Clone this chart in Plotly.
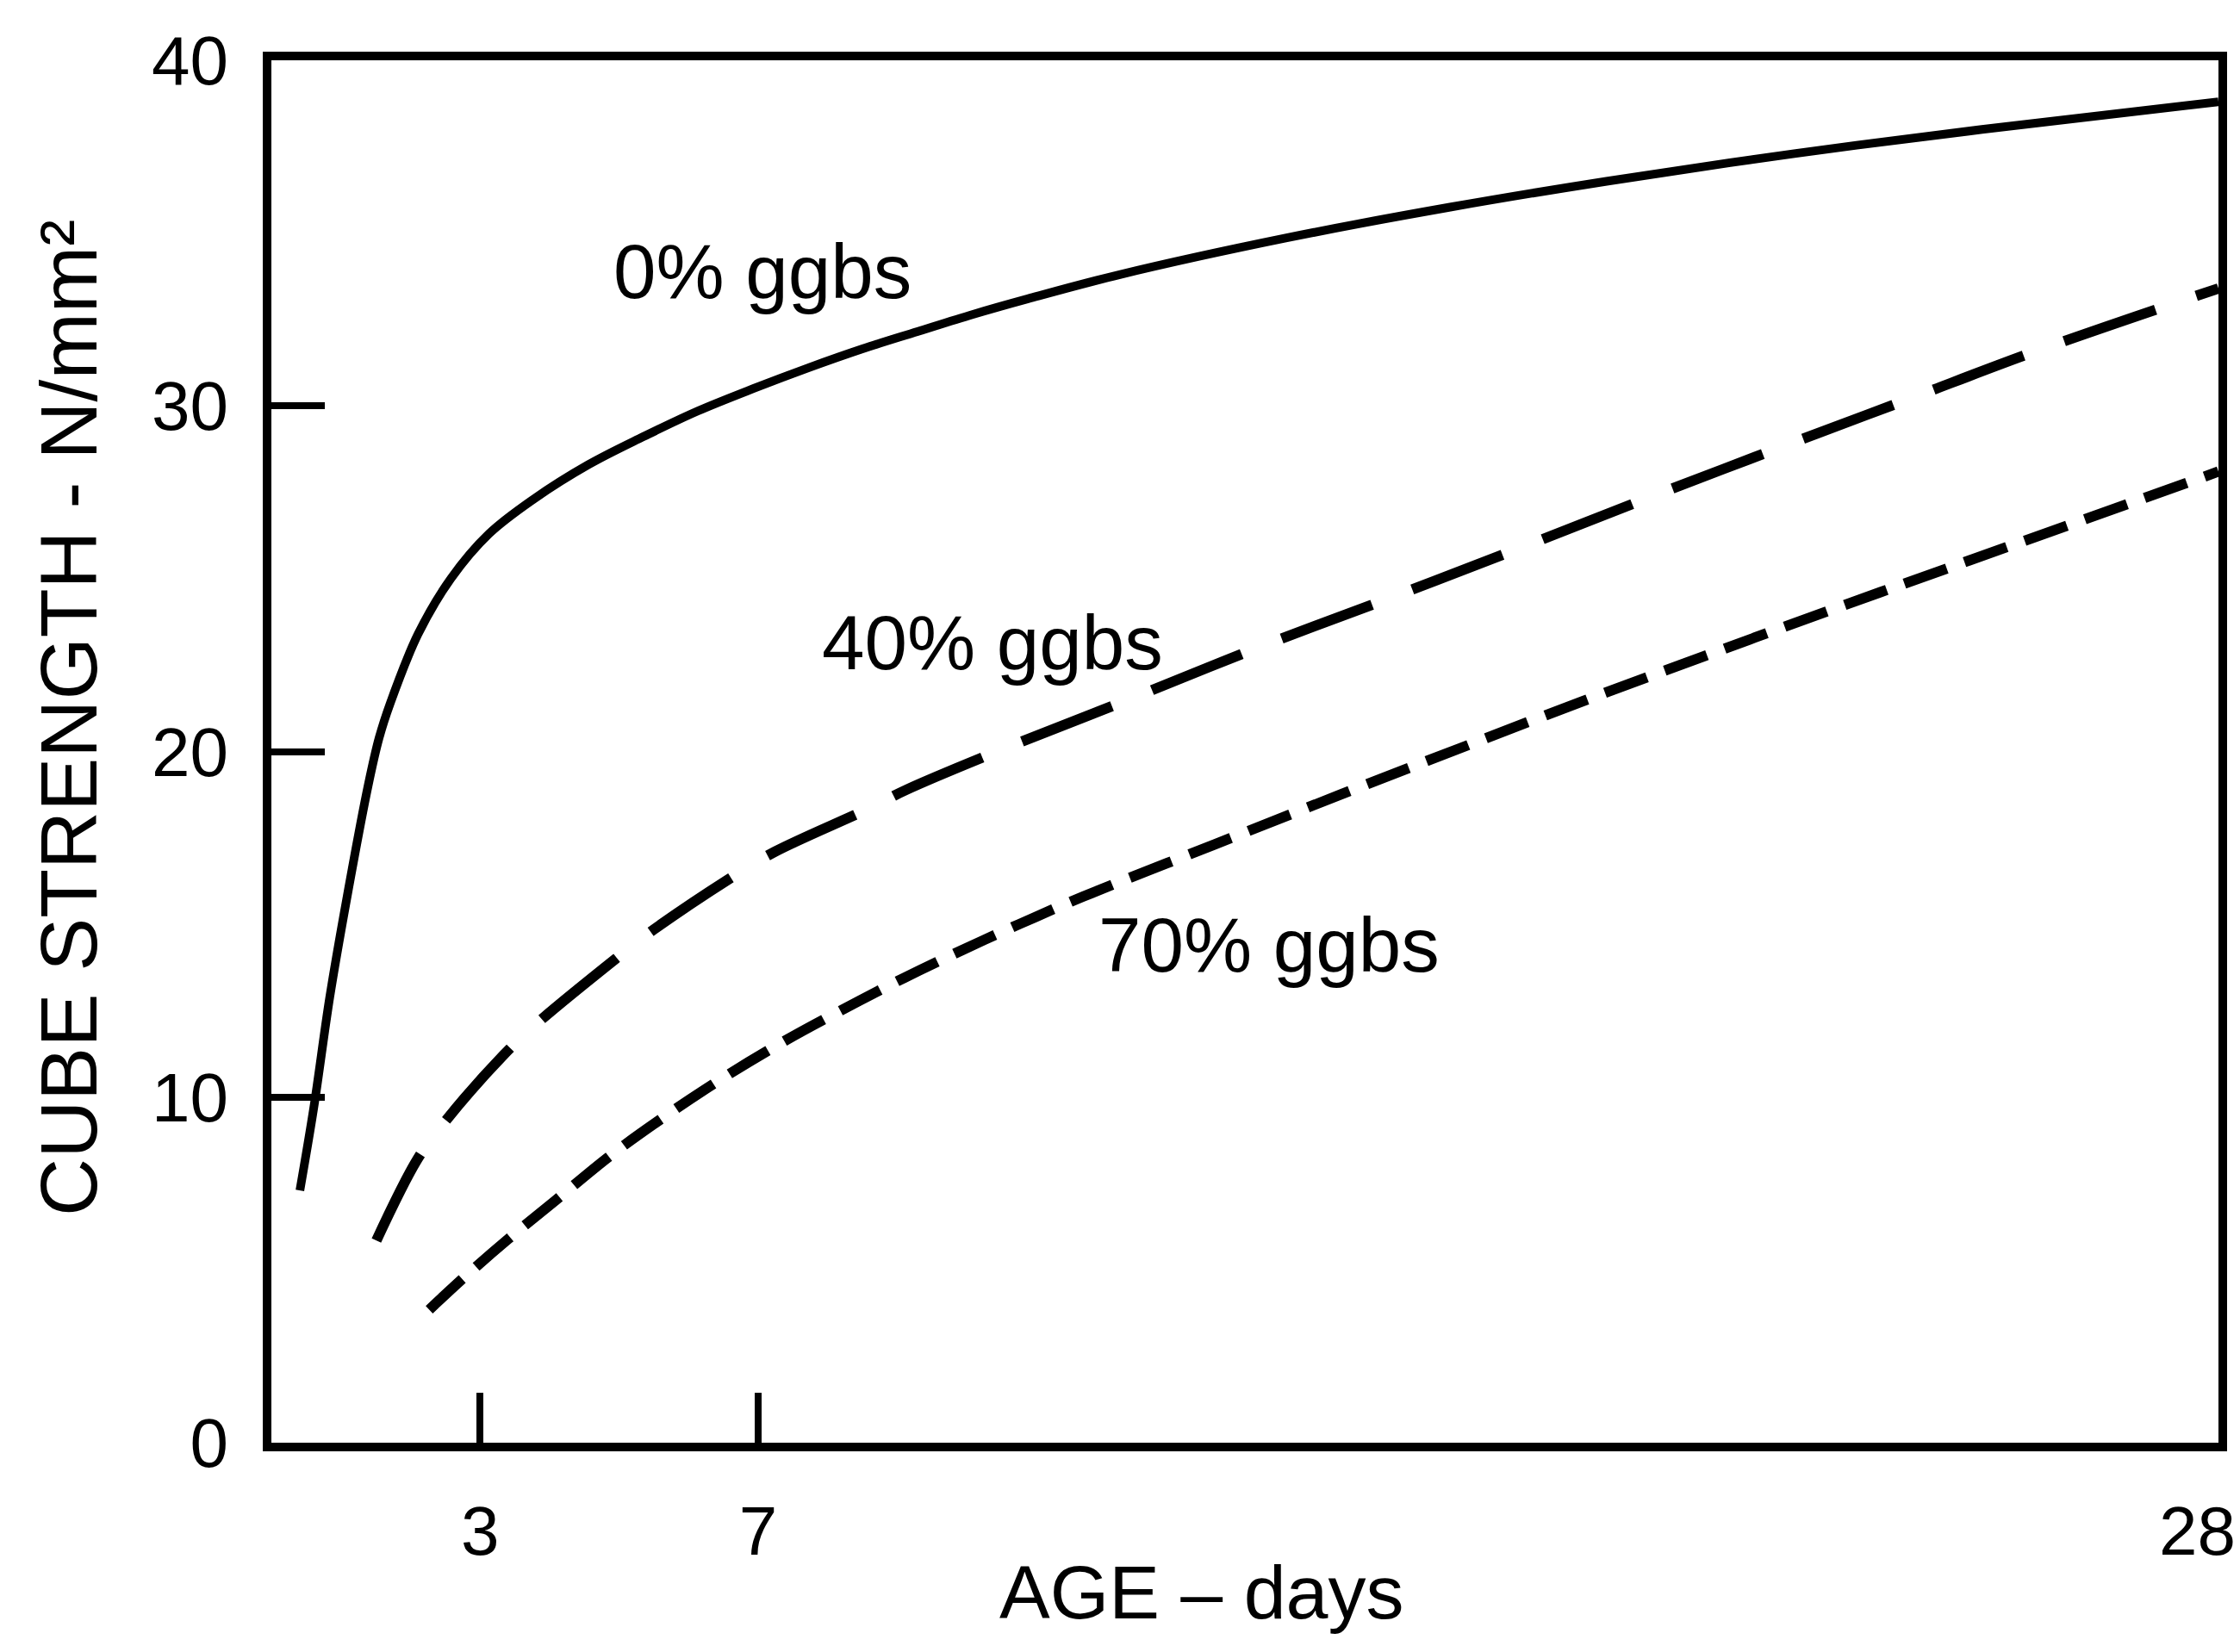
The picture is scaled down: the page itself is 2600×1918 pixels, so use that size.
import plotly.graph_objects as go

# ---- data ----
age_0 = [0.41, 0.61, 0.84, 1.08, 1.39, 1.55, 1.71, 2.11, 2.58, 3.13, 3.77, 4.56, 5.34, 6.13, 6.93, 7.72,
         8.5, 9.29, 10.09, 10.88, 12.2, 14.57, 16.95, 19.2, 21.9, 24.6, 28.0]
str_0 = [7.3, 9.7, 12.9, 15.7, 19.0, 20.4, 21.4, 23.4, 25.0, 26.3, 27.3, 28.3, 29.1, 29.85, 30.5, 31.1,
         31.65, 32.15, 32.65, 33.1, 33.8, 34.85, 35.75, 36.5, 37.3, 38.0, 38.8]

age_40 = [1.51, 2.1, 2.5, 3.33, 3.8, 4.95, 5.43, 6.65, 7.24, 8.59, 9.14, 10.56, 12.2,
          14.18, 16.16, 18.1, 19.75, 21.7, 23.55, 25.4, 28.0]
str_40 = [5.85, 8.2, 9.3, 11.2, 12.1, 14.0, 14.75, 16.4, 17.1, 18.35, 18.9, 20.1, 21.4,
          23.0, 24.5, 26.0, 27.3, 28.8, 30.2, 31.6, 33.4]

age_70 = [2.27, 2.78, 3.41, 4.08, 4.87, 5.7, 6.49, 7.36, 8.23, 9.1, 9.93, 10.75, 11.67, 13.55,
          15.37, 17.1, 18.85, 20.66, 22.5, 24.1, 26.75, 28.0]
str_70 = [3.85, 4.8, 5.9, 7.0, 8.3, 9.5, 10.55, 11.6, 12.55, 13.45, 14.25, 15.0, 15.8, 17.3,
          18.75, 20.1, 21.45, 22.8, 24.15, 25.3, 27.2, 28.1]

series_names = ["0% ggbs", "40% ggbs", "70% ggbs"]
label_x = [7.06, 10.37, 14.35]
label_y = [33.9, 23.15, 14.4]

x_tick_vals = [3, 7, 28]
x_tick_text = ["3", "7", "28"]
y_tick_vals = [0, 10, 20, 30, 40]
y_tick_text = ["0", "10", "20", "30", "40"]

x_title = "AGE – days"
y_title = "CUBE STRENGTH - N/mm²"

FONT = "Liberation Sans, Arial, sans-serif"

fig = go.Figure()
fig.add_trace(go.Scatter(x=age_0, y=str_0, mode="lines",
                         line=dict(color="black", width=10, shape="spline", smoothing=1.0),
                         name=series_names[0]))
fig.add_trace(go.Scatter(x=age_40, y=str_40, mode="lines",
                         line=dict(color="black", width=12, shape="spline", smoothing=1.0, dash="112px,50px"),
                         name=series_names[1]))
fig.add_trace(go.Scatter(x=age_70, y=str_70, mode="lines",
                         line=dict(color="black", width=12, shape="spline", smoothing=1.0, dash="52px,22px"),
                         name=series_names[2]))

for name, lx, ly in zip(series_names, label_x, label_y):
    fig.add_annotation(x=lx, y=ly, text=name, showarrow=False,
                       font=dict(family=FONT, size=89, color="black"))

# last x tick label sits just inside the frame edge
fig.add_annotation(x=x_tick_vals[2], y=0, text=x_tick_text[2], showarrow=False, xanchor="right", yanchor="top",
                   xshift=22, yshift=-56, font=dict(family=FONT, size=80, color="black"))

# axis titles
fig.add_annotation(xref="paper", yref="paper", x=0.478, y=-0.1084, text=x_title, showarrow=False,
                   xanchor="center", yanchor="middle", font=dict(family=FONT, size=88, color="black"))
fig.add_annotation(xref="paper", yref="paper", x=-0.104, y=0.5246, text=y_title, showarrow=False,
                   textangle=-90, xanchor="center", yanchor="middle",
                   font=dict(family=FONT, size=93, color="black"))

fig.update_layout(
    width=2600, height=1918,
    margin=dict(l=315, r=25, t=70, b=243),
    paper_bgcolor="white", plot_bgcolor="white",
    showlegend=False,
    font=dict(family=FONT, color="black"),
)
fig.update_xaxes(
    range=[0, 28], tickvals=x_tick_vals, ticktext=[x_tick_text[0], x_tick_text[1], ""],
    ticks="inside", ticklen=58, tickwidth=8, tickcolor="black",
    showline=True, linecolor="black", linewidth=10, mirror=True,
    showgrid=False, zeroline=False,
    tickfont=dict(family=FONT, size=80, color="black"), ticklabelstandoff=24,
)
fig.update_yaxes(
    range=[0, 40], tickvals=y_tick_vals, ticktext=y_tick_text,
    ticks="inside", ticklen=62, tickwidth=8, tickcolor="black",
    showline=True, linecolor="black", linewidth=10, mirror=True,
    showgrid=False, zeroline=False,
    tickfont=dict(family=FONT, size=80, color="black"), ticklabelstandoff=24,
)

fig.write_html("out.html")
